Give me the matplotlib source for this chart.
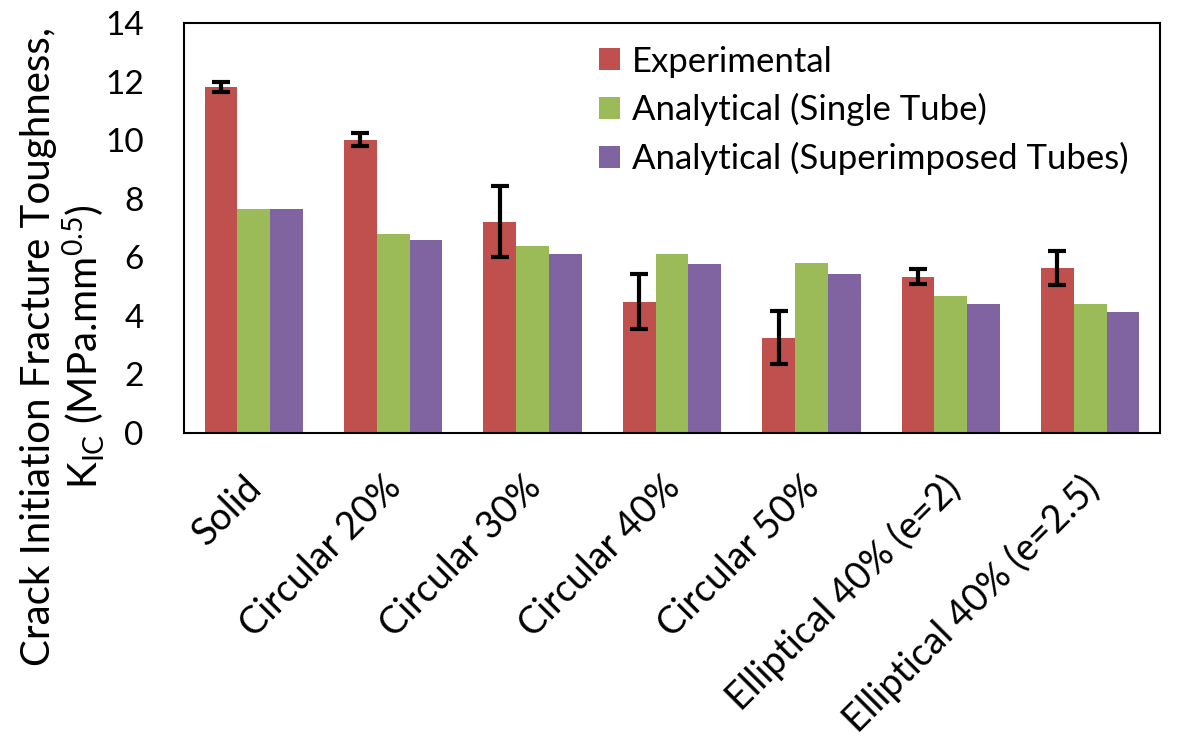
import numpy as np
import matplotlib
matplotlib.use("Agg")
import matplotlib.pyplot as plt
from matplotlib.transforms import ScaledTranslation

plt.rcParams['font.family'] = ['Lato', 'DejaVu Sans']
plt.rcParams['mathtext.fontset'] = 'custom'
plt.rcParams['mathtext.rm'] = 'Lato'
plt.rcParams['mathtext.it'] = 'Lato:italic'

categories = ["Solid", "Circular 20%", "Circular 30%", "Circular 40%",
              "Circular 50%", "Elliptical 40% (e=2)", "Elliptical 40% (e=2.5)"]
experimental = [11.81, 10.01, 7.22, 4.49, 3.25, 5.34, 5.64]
exp_err = [0.18, 0.22, 1.2, 0.95, 0.9, 0.26, 0.57]
single_tube = [7.66, 6.80, 6.40, 6.10, 5.81, 4.68, 4.41]
superimposed = [7.66, 6.60, 6.12, 5.78, 5.42, 4.41, 4.12]
series_names = ["Experimental", "Analytical (Single Tube)",
                "Analytical (Superimposed Tubes)"]

colors = ["#C0504D", "#9BBB59", "#8064A2"]

fig = plt.figure(figsize=(11.78, 7.43), dpi=100)
ax = fig.add_axes([0.1562, 0.4172, 0.8285, 0.5518])

x = np.arange(len(categories))
w = 0.235
ax.bar(x - w, experimental, w, color=colors[0], label=series_names[0],
       yerr=exp_err, error_kw=dict(ecolor='black', elinewidth=3,
                                   capsize=6.5, capthick=3))
ax.bar(x, single_tube, w, color=colors[1], label=series_names[1])
ax.bar(x + w, superimposed, w, color=colors[2], label=series_names[2])

ax.set_xlim(-0.5, len(categories) - 0.5)
ax.set_ylim(0, 14)
ax.set_yticks(range(0, 15, 2))
ax.tick_params(axis='both', length=0)
ax.tick_params(axis='y', pad=29, labelsize=24)
ax.set_xticks(x)
ax.set_xticklabels(categories, rotation=45, ha='right', va='top',
                   rotation_mode='anchor', fontsize=27)
ax.tick_params(axis='x', pad=26)
shift = ScaledTranslation(-10 / 100, 0, fig.dpi_scale_trans)
for lab in ax.get_xticklabels():
    lab.set_transform(lab.get_transform() + shift)
for s in ax.spines.values():
    s.set_linewidth(1.5)

fig.text(0.054, 0.533, "Crack Initiation Fracture Toughness,\n"
         r"K$_{\mathrm{IC}}$ (MPa.mm$^{0.5}$)", fontsize=29,
         rotation=90, ha='center', va='center', multialignment='center',
         linespacing=1.1)

leg = ax.legend(loc='upper left', frameon=False, fontsize=25,
                handlelength=0.6, handleheight=0.6, handletextpad=0.35,
                labelspacing=0.45, borderpad=0, borderaxespad=0,
                bbox_to_anchor=(0.425, 0.945))

fig.savefig("out.png", dpi=100)
